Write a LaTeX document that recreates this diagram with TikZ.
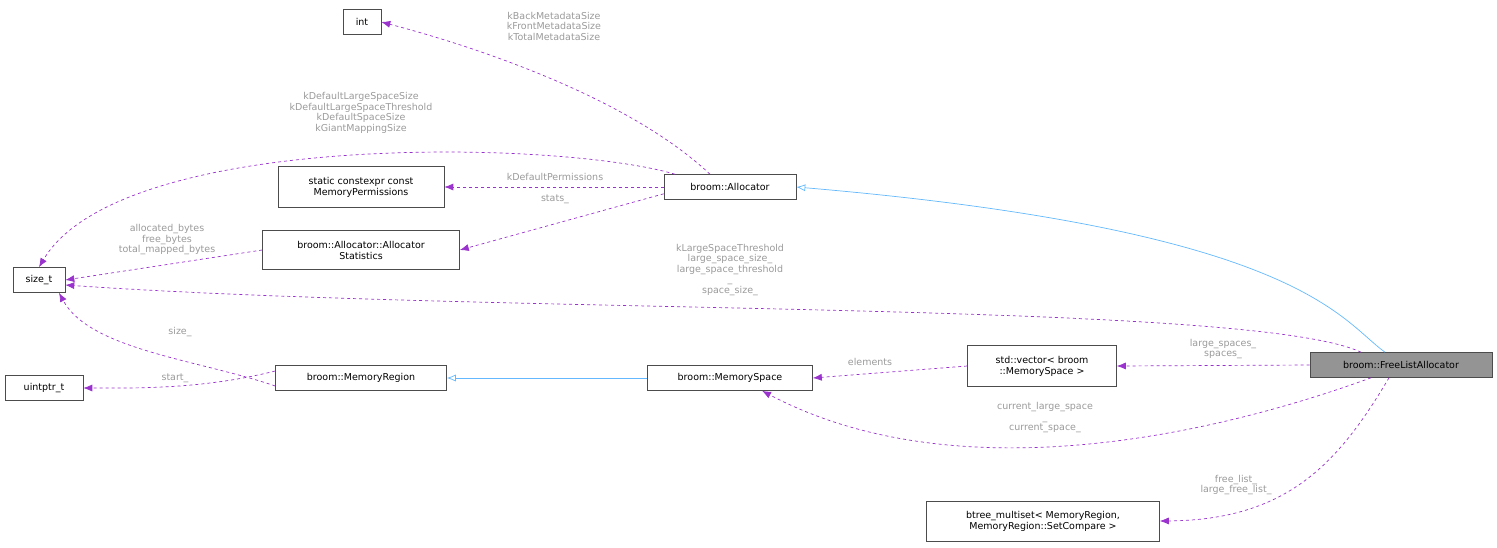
\documentclass[tikz,border=0pt]{standalone}
\usepackage{fontspec}
\setmainfont{DejaVu Sans}
\usetikzlibrary{arrows.meta}
\definecolor{usec}{HTML}{9A32CD}
\definecolor{inhc}{HTML}{63B8FF}
\definecolor{lblc}{HTML}{9A9A9A}
\begin{document}
\begin{tikzpicture}[x=1pt,y=-1pt,
  box/.style={draw=black!70,fill=white,font=\fontsize{9.5}{11}\selectfont,align=center,inner sep=3pt,line width=0.6pt},
  use/.style={draw=usec,dashed,line width=0.7pt,-{Latex[length=9pt,width=7pt]}},
  inh/.style={draw=inhc,line width=0.7pt,-{Latex[length=9pt,width=7pt,open]}},
  lbl/.style={text=lblc,font=\fontsize{9.5}{10.5}\selectfont,align=center,inner sep=0pt}]
\useasboundingbox (0,0) rectangle (1497,547);
\node[box,minimum width=38,minimum height=25] (int) at (362,22) {int};
\node[box,minimum width=166,minimum height=41] (perm) at (361,187) {static constexpr const\\MemoryPermissions};
\node[box,minimum width=197,minimum height=39] (stats) at (361,250) {broom::Allocator::Allocator\\Statistics};
\node[box,minimum width=52,minimum height=25] (size) at (39,280) {size\_t};
\node[box,minimum width=78,minimum height=25] (uint) at (44,388) {uintptr\_t};
\node[box,minimum width=171,minimum height=25] (region) at (361,378) {broom::MemoryRegion};
\node[box,minimum width=132,minimum height=25] (alloc) at (730,187) {broom::Allocator};
\node[box,minimum width=165,minimum height=25] (space) at (730,378) {broom::MemorySpace};
\node[box,minimum width=149,minimum height=41] (vec) at (1042,366) {std::vector< broom\\::MemorySpace >};
\node[box,minimum width=182,minimum height=25,fill=black!42] (fla) at (1401,365) {broom::FreeListAllocator};
\node[box,minimum width=233,minimum height=40] (bt) at (1043,521) {btree\_multiset< MemoryRegion,\\MemoryRegion::SetCompare >};

\draw[use] (alloc.north) ++(-20,0) .. controls (620,90) and (450,40) .. (int.east);
\draw[use] (alloc.north) ++(-55,0) .. controls (560,140) and (120,130) .. (size.north);
\draw[use] (alloc.west) -- (perm.east);
\draw[use] ([yshift=6pt]alloc.south west) -- (stats.east);
\draw[use] (stats.west) -- (size.east);
\draw[inh] (fla.north) ++(-16,0) .. controls (1340,320) and (1300,230) .. (alloc.east);
\draw[use] (fla.north) ++(-40,0) .. controls (1250,300) and (500,315) .. ([yshift=-5pt]size.east);
\draw[use] ([yshift=-8pt]region.west) .. controls (200,360) and (90,350) .. ([xshift=20pt]size.south);
\draw[use] ([yshift=7pt]region.west) .. controls (200,390) and (130,388) .. (uint.east);
\draw[inh] (space.west) -- (region.east);
\draw[use] (vec.west) -- (space.east);
\draw[use] (fla.west) -- (vec.east);
\draw[use] (fla.south) ++(-30,0) .. controls (1200,440) and (950,490) .. ([xshift=32pt]space.south);
\draw[use] (fla.south) ++(-12,0) .. controls (1340,460) and (1290,520) .. (bt.east);

\node[lbl] at (554,26) {kBackMetadataSize\\kFrontMetadataSize\\kTotalMetadataSize};
\node[lbl] at (361,113) {kDefaultLargeSpaceSize\\kDefaultLargeSpaceThreshold\\kDefaultSpaceSize\\kGiantMappingSize};
\node[lbl] at (555,177) {kDefaultPermissions};
\node[lbl] at (555,199) {stats\_};
\node[lbl] at (167,240) {allocated\_bytes\\free\_bytes\\total\_mapped\_bytes};
\node[lbl] at (730,270) {kLargeSpaceThreshold\\large\_space\_size\_\\large\_space\_threshold\\\_\\space\_size\_};
\node[lbl] at (180,332) {size\_};
\node[lbl] at (175,378) {start\_};
\node[lbl] at (870,362) {elements};
\node[lbl] at (1223,349) {large\_spaces\_\\spaces\_};
\node[lbl] at (1045,418) {current\_large\_space\\\_\\current\_space\_};
\node[lbl] at (1236,485) {free\_list\_\\large\_free\_list\_};
\end{tikzpicture}
\end{document}
